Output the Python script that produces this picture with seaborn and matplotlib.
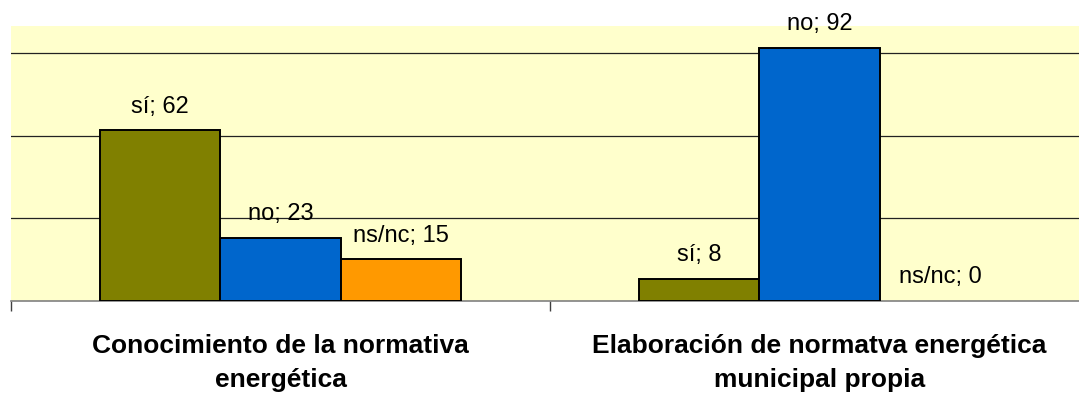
import pandas as pd
import seaborn as sns
import matplotlib.pyplot as plt

# data
temas = ['Conocimiento de la normativa\nenergética',
         'Elaboración de normatva energética\nmunicipal propia']
respuestas = ['sí', 'no', 'ns/nc']
valores_conocimiento = [62, 23, 15]
valores_elaboracion = [8, 92, 0]
colores = ['#808000', '#0066CC', '#FF9900']
grid_ticks = [30, 60, 90]

plt.rcParams['font.family'] = ['Liberation Sans', 'DejaVu Sans']

df = pd.DataFrame({
    'tema': [temas[0]] * 3 + [temas[1]] * 3,
    'respuesta': respuestas * 2,
    'pct': valores_conocimiento + valores_elaboracion,
})

fig = plt.figure(figsize=(10.79, 4.03), dpi=100)
ax = fig.add_axes([11 / 1079, 102.3 / 403, 1078 / 1079, 274.7 / 403])
ax.set_facecolor('#FFFFCC')

sns.barplot(data=df, x='tema', y='pct', hue='respuesta', hue_order=respuestas,
            palette=colores, saturation=1, width=0.67, gap=0, errorbar=None,
            edgecolor='black', linewidth=1.4, legend=False, ax=ax, zorder=3)

# no outline for empty bars
for p in ax.patches:
    if p.get_height() == 0:
        p.set_linewidth(0)

# value labels "serie; valor"
for resp, cont in zip(respuestas, ax.containers):
    labs = [f'{resp}; {int(v)}' for v in cont.datavalues]
    ax.bar_label(cont, labels=labs, padding=9, fontsize=17, color='black')

ax.set_ylim(0, 100)
ax.set_xlim(-0.5, 1.5)
ax.set_yticks(grid_ticks)
ax.yaxis.grid(True, color='#222222', linewidth=0.9, zorder=0)
ax.set_axisbelow(True)
ax.tick_params(axis='y', left=False, labelleft=False)
ax.set_ylabel('')
ax.set_xlabel('')

for s in ['top', 'right', 'left']:
    ax.spines[s].set_visible(False)
ax.spines['bottom'].set_color('#808080')
ax.spines['bottom'].set_linewidth(1.2)

# category labels at centres, tick marks at boundaries
ax.set_xticks([0, 1])
ax.set_xticklabels(temas, fontsize=19, fontweight='bold', linespacing=1.55)
ax.tick_params(axis='x', which='major', length=0, pad=24)
ax.set_xticks([-0.5, 0.5, 1.5], minor=True)
ax.tick_params(axis='x', which='minor', length=7, color='#404040', width=1)

fig.savefig('out.png', dpi=100)
